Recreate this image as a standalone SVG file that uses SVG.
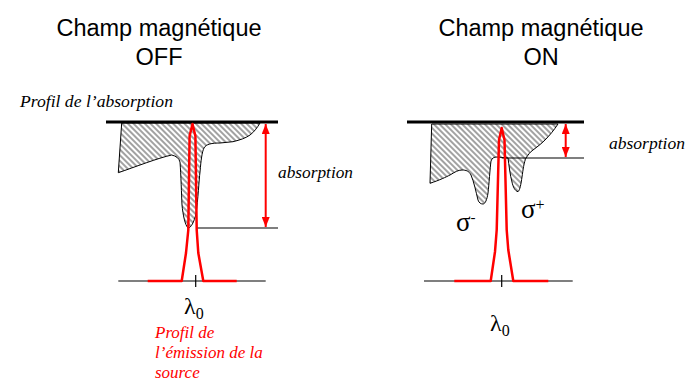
<svg xmlns="http://www.w3.org/2000/svg" width="697" height="386" viewBox="0 0 697 386">
<style>
.title{font-family:"Liberation Sans",Arial,sans-serif;font-size:23.5px;fill:#000;text-anchor:middle}
.it{font-family:"Liberation Serif","Times New Roman",serif;font-style:italic;font-size:17px;fill:#000}
.red{fill:#ff0000}
.sym{font-family:"Liberation Serif","DejaVu Serif",serif;fill:#000}
.thick{stroke:#000;stroke-width:3;fill:none}
.thin{stroke:#000;stroke-width:1.2;fill:none}
.emis{stroke:#ff0000;stroke-width:2.5;fill:none;stroke-linejoin:round}
.arr{stroke:#ff0000;stroke-width:2;fill:none;marker-start:url(#ah);marker-end:url(#ah)}
.hatch{fill:url(#hp);stroke:#000;stroke-width:1}
</style>
<defs>
<pattern id="hp" width="4" height="4" patternUnits="userSpaceOnUse" patternTransform="rotate(45)">
<rect width="4" height="4" fill="#fff"/>
<line x1="0" y1="1" x2="4" y2="1" stroke="#555" stroke-width="1.1"/>
</pattern>
<marker id="ah" viewBox="0 0 10 8" refX="10" refY="4" markerWidth="10" markerHeight="8" markerUnits="userSpaceOnUse" orient="auto-start-reverse">
<path d="M0,0 L10,4 L0,8 Z" fill="#ff0000"/>
</marker>
</defs>

<g id="title-off">
<text class="title" x="159" y="36">Champ magnétique</text>
<text class="title" x="159" y="65">OFF</text>
</g>
<g id="title-on">
<text class="title" x="541" y="36">Champ magnétique</text>
<text class="title" x="541" y="65">ON</text>
</g>

<g id="panel-off">
<text class="it" x="20" y="107" textLength="153" lengthAdjust="spacingAndGlyphs">Profil de l’absorption</text>
<path class="hatch" d="M121.7,123 L118.3,172.7 C135,167 158,158 171.7,155 C176,156 179,158 180,162 C181,175 181.5,195 182,205 C183,215 185,225 188,228 C191,228 194,222 196,214 C198,200 199,180 200,172 C201,160 202,152 204,148 C206,144 212,143 220,143 L233,141.7 C240,140 246,138 250,135 C254,132 257,128 260,123 Z"/>
<line class="thick" x1="106" y1="122" x2="278" y2="122"/>
<line class="thin" x1="196" y1="228" x2="278" y2="228"/>
<line class="thin" x1="118.3" y1="281" x2="265.7" y2="281"/>
<line class="thin" x1="195.7" y1="275" x2="195.7" y2="287"/>
<path class="emis" d="M147.7,281 L181.7,281 L186,253 L188.3,230 L189.6,136 L192.5,124 L195.4,136 L196.7,230 L198.3,253 L203.3,281 L236.7,281"/>
<line class="arr" x1="265.7" y1="124" x2="265.7" y2="227"/>
<text class="it" x="278" y="178" textLength="75" lengthAdjust="spacingAndGlyphs">absorption</text>
<text class="sym" x="184" y="314" font-size="24">λ<tspan font-size="16" dy="5">0</tspan></text>
<text class="it red" x="155" y="338">Profil de</text>
<text class="it red" x="155" y="358">l’émission de la</text>
<text class="it red" x="155" y="378">source</text>
</g>

<g id="panel-on">
<path class="hatch" d="M431.7,124 L430,183.3 C440,180 446,177 450,175 C455,172 458,170 462,170 C466,170 469,171 471,175 C474,182 476,192 478,200 C479,203 481,204 483,204 C485,204 487,200 488,193 C489,185 490,168 491,161 C492,158 494,157 497,157 L508,158 C509,165 510,175 512,182 C513,187 515,191 518,191.7 C520,190 521,184 522,177 C523,170 524,162 526,158 C528,155 530,152 533,150 C537,147 541,144 545,140 C550,135 554,130 558,124 Z"/>
<line class="thick" x1="407" y1="122" x2="584" y2="122"/>
<line class="thin" x1="501.7" y1="158" x2="584" y2="158"/>
<line class="thin" x1="424" y1="281" x2="572.7" y2="281"/>
<line class="thin" x1="501.7" y1="275" x2="501.7" y2="287"/>
<path class="emis" d="M454.3,281 L490.7,281 L495,251.7 L496.7,230 L499,140 L501.7,128 L504.5,140 L506.7,230 L508.3,250 L513.3,281 L548.3,281"/>
<line class="arr" x1="565.7" y1="124" x2="565.7" y2="157"/>
<text class="it" x="609" y="149" textLength="76" lengthAdjust="spacingAndGlyphs">absorption</text>
<text class="sym" x="456" y="231" font-size="27">σ<tspan font-size="15" dy="-9">-</tspan></text>
<text class="sym" x="521" y="218" font-size="27">σ<tspan font-size="16" dy="-8">+</tspan></text>
<text class="sym" x="490" y="331" font-size="24">λ<tspan font-size="16" dy="5">0</tspan></text>
</g>
</svg>
